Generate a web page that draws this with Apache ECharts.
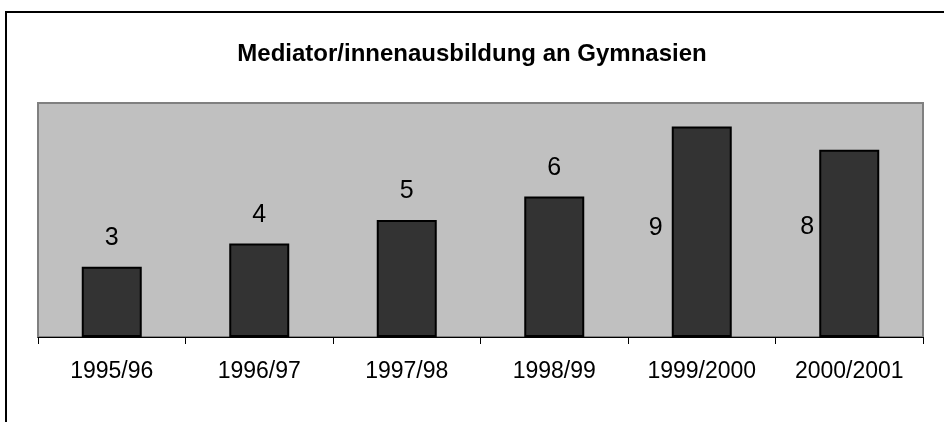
<!DOCTYPE html>
<html>
<head>
<meta charset="utf-8">
<script src="https://cdn.jsdelivr.net/npm/echarts@6/dist/echarts.min.js"></script>
<style>
  html, body { margin: 0; padding: 0; background: #fff; }
  #chart { width: 944px; height: 422px; }
</style>
</head>
<body>
<div id="chart"></div>
<script>
// Daten
var years = ["1995/96", "1996/97", "1997/98", "1998/99", "1999/2000", "2000/2001"];
var counts = [3, 4, 5, 6, 9, 8];

var chart = echarts.init(document.getElementById("chart"));

// Beschriftung: kleine Werte über dem Balken, große links daneben
var barData = counts.map(function (v, i) {
  var item = { value: v };
  if (i === 4) item.label = { position: "left", distance: 9, offset: [0, -4] };
  if (i === 5) item.label = { position: "left", distance: 5, offset: [0, -16] };
  return item;
});

chart.setOption({
  animation: false,
  textStyle: { fontFamily: "Liberation Sans, Arial, sans-serif" },
  title: {
    text: "Mediator/innenausbildung an Gymnasien",
    left: "center",
    top: 37,
    textStyle: { fontSize: 24, fontWeight: "bold", color: "#000" }
  },
  graphic: [
    {
      type: "rect",
      shape: { x: 6, y: 12, width: 1200, height: 800 },
      style: { fill: "none", stroke: "#000", lineWidth: 2 },
      silent: true
    }
  ],
  grid: {
    left: 38,
    right: 21,
    top: 103,
    bottom: 85,
    show: true,
    backgroundColor: "#c0c0c0",
    borderColor: "#808080",
    borderWidth: 2
  },
  xAxis: {
    type: "category",
    data: years,
    axisLine: { lineStyle: { color: "#000", width: 1 } },
    axisTick: { show: true, length: 7, lineStyle: { color: "#000" } },
    axisLabel: { color: "#000", fontSize: 23, margin: 23 }
  },
  yAxis: {
    type: "value",
    min: 0,
    max: 10,
    show: false
  },
  series: [
    {
      type: "bar",
      data: barData,
      barWidth: 60,
      itemStyle: { color: "#333333", borderColor: "#000", borderWidth: 2 },
      label: {
        show: true,
        position: "top",
        distance: 16,
        color: "#000",
        fontSize: 25
      }
    }
  ]
});
</script>
</body>
</html>
